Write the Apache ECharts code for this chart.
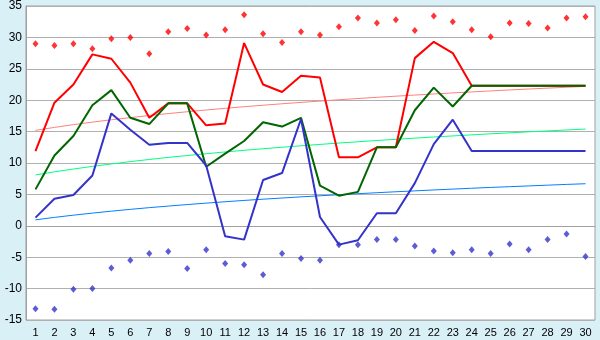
<!DOCTYPE html>
<html>
<head>
<meta charset="utf-8">
<script src="https://cdn.jsdelivr.net/npm/echarts@6/dist/echarts.min.js"></script>
<style>
html,body{margin:0;padding:0;background:#d9f0f7;}
#c{width:600px;height:340px;}
</style>
</head>
<body>
<div id="c"></div>
<script>
var categories = ['1','2','3','4','5','6','7','8','9','10','11','12','13','14','15','16','17','18','19','20','21','22','23','24','25','26','27','28','29','30'];
var yTicks = {min: -15, max: 35, interval: 5};

var redLine = [11.9,19.6,22.5,27.3,26.6,22.8,17.2,19.5,19.5,16.0,16.3,29.1,22.5,21.3,23.9,23.6,10.9,10.9,12.5,12.5,26.7,29.3,27.5,22.3,22.3,22.3,22.3,22.3,22.3,22.3];
var greenLine = [5.8,11.2,14.3,19.2,21.6,17.2,16.2,19.5,19.5,9.4,11.5,13.5,16.5,15.8,17.2,6.4,4.8,5.4,12.5,12.5,18.4,22.0,19.0,22.3,22.3,22.3,22.3,22.3,22.3,22.3];
var blueLine = [1.3,4.3,4.9,8.0,17.9,15.3,12.9,13.2,13.2,9.6,-1.65,-2.2,7.3,8.4,17.0,1.4,-3.0,-2.3,2.0,2.0,6.8,13.0,16.9,11.9,11.9,11.9,11.9,11.9,11.9,11.9];

var maxPoints = [29.0,28.7,29.0,28.2,29.8,30.0,27.4,30.9,31.4,30.4,31.2,33.6,30.6,29.2,30.9,30.4,31.7,33.1,32.3,32.8,31.1,33.4,32.5,31.2,30.1,32.3,32.2,31.5,33.1,33.3];
var minPoints = [-13.2,-13.3,-10.1,-10.0,-6.7,-5.5,-4.4,-4.1,-6.8,-3.8,-6.0,-6.2,-7.8,-4.4,-5.2,-5.5,-3.0,-3.0,-2.2,-2.2,-3.2,-4.0,-4.3,-3.8,-4.4,-2.9,-3.8,-2.2,-1.3,-4.9];

var redTrend = [15.20,15.67,16.11,16.51,16.88,17.23,17.56,17.87,18.16,18.44,18.71,18.96,19.20,19.43,19.65,19.86,20.07,20.27,20.46,20.64,20.82,20.99,21.16,21.32,21.48,21.63,21.78,21.92,22.06,22.20];
var greenTrend = [8.10,8.59,9.04,9.46,9.85,10.22,10.56,10.89,11.19,11.48,11.76,12.02,12.27,12.51,12.74,12.96,13.18,13.38,13.58,13.77,13.96,14.14,14.31,14.48,14.65,14.80,14.96,15.11,15.26,15.40];
var blueTrend = [0.95,1.34,1.69,2.02,2.33,2.62,2.89,3.14,3.38,3.61,3.83,4.04,4.24,4.42,4.61,4.78,4.95,5.11,5.27,5.42,5.56,5.71,5.84,5.98,6.11,6.23,6.35,6.47,6.59,6.70];

var chart = echarts.init(document.getElementById('c'), null, {renderer: 'canvas'});
var font = 'Liberation Sans, Arial, sans-serif';
function trend(data, color) {
  return {type: 'line', data: data, symbol: 'none', silent: true, animation: false,
    lineStyle: {color: color, width: 1}, z: 2};
}
function main(data, color) {
  return {type: 'line', data: data, symbol: 'none', animation: false,
    lineStyle: {color: color, width: 2}, z: 3};
}
function pts(data, color) {
  return {type: 'scatter', data: data, symbol: 'diamond', symbolSize: [6, 7], animation: false,
    itemStyle: {color: color}, z: 4};
}
chart.setOption({
  backgroundColor: '#d9f0f7',
  animation: false,
  grid: {left: 26, right: 5, top: 5, bottom: 20, show: true, backgroundColor: '#ffffff', borderColor: '#a0a0a0', borderWidth: 1},
  xAxis: {
    type: 'category', data: categories, boundaryGap: true,
    axisLine: {lineStyle: {color: '#a0a0a0'}},
    axisTick: {alignWithLabel: true, length: 5, lineStyle: {color: '#000000'}},
    axisLabel: {color: '#000000', fontFamily: font, fontSize: 11, margin: 7, interval: 0},
    splitLine: {show: false}
  },
  yAxis: {
    type: 'value', min: yTicks.min, max: yTicks.max, interval: yTicks.interval,
    axisLine: {show: true, lineStyle: {color: '#a0a0a0'}},
    axisTick: {show: false},
    axisLabel: {color: '#000000', fontFamily: font, fontSize: 12, margin: 4},
    splitLine: {lineStyle: {color: '#b0b0b0', width: 1}}
  },
  series: [
    trend(redTrend, '#ff8080'),
    trend(greenTrend, '#00ff80'),
    trend(blueTrend, '#0080ff'),
    main(redLine, '#ff0000'),
    main(greenLine, '#006600'),
    main(blueLine, '#3333cc'),
    pts(maxPoints, '#ff0000'),
    pts(minPoints, '#3333cc')
  ]
});
</script>
</body>
</html>
